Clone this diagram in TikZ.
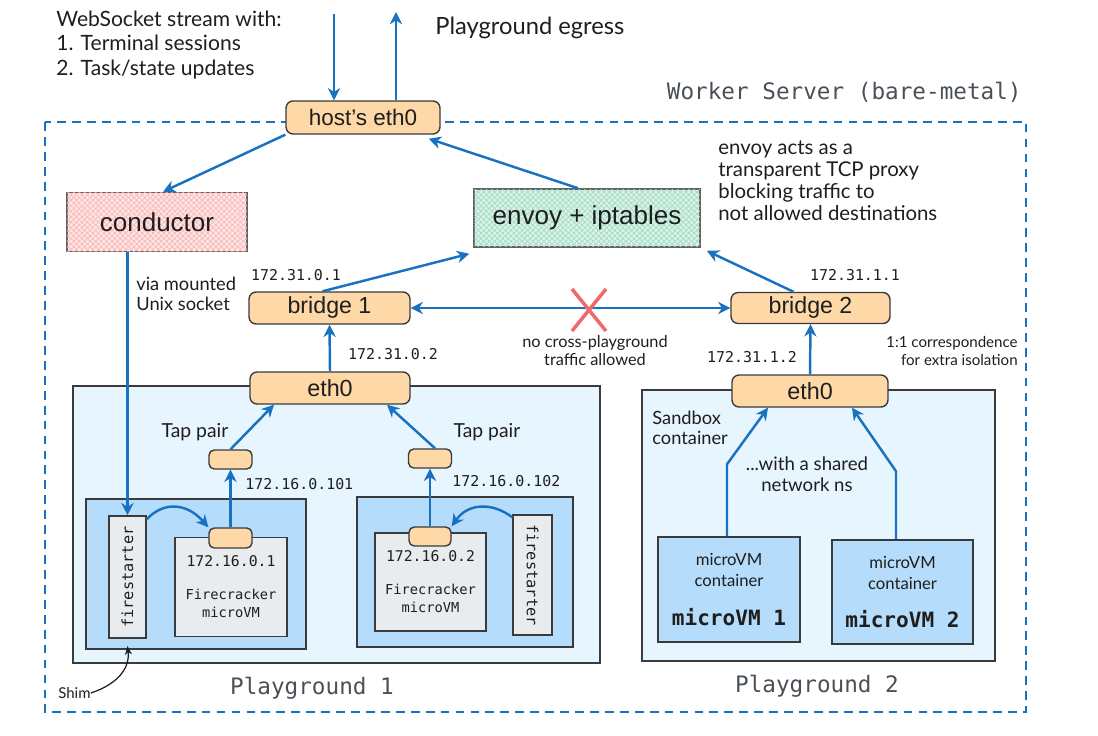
\documentclass[tikz,border=0pt]{standalone}
\usepackage{fontspec}
\setmainfont{Liberation Sans}
\setmonofont{DejaVu Sans Mono}
\newfontfamily\handfont{Lato}
\usepackage{xcolor}
\usepackage{tikz}
\usetikzlibrary{arrows.meta,positioning,patterns.meta}

\definecolor{flowblue}{HTML}{1971C2}
\definecolor{boxline}{HTML}{3B3B3B}
\definecolor{ifaceorange}{HTML}{FFD8A8}
\definecolor{condred}{HTML}{FFE4E4}
\definecolor{condhatch}{HTML}{F7B0B0}
\definecolor{envoygreen}{HTML}{D8F2E7}
\definecolor{envoyhatch}{HTML}{9AD7BD}
\definecolor{pglight}{HTML}{E7F5FF}
\definecolor{ctblue}{HTML}{B5DDFB}
\definecolor{vmgray}{HTML}{E9ECEF}
\definecolor{inkblack}{HTML}{1E1E1E}
\definecolor{labelgray}{HTML}{495057}
\definecolor{xred}{HTML}{EE6A6A}

\begin{document}
\begin{tikzpicture}[x=0.02cm, y=-0.02cm, >=Stealth,
  flow/.style={draw=flowblue, line width=1.4pt, -{Stealth[length=7pt,width=7pt]}},
  iface/.style={draw=boxline, fill=ifaceorange, rounded corners=4pt, line width=0.8pt, inner sep=0pt, text=inkblack},
  port/.style={iface, rounded corners=3pt},
  plainbox/.style={draw=boxline, line width=0.9pt, inner sep=0pt, text=inkblack},
  hatched/.style={postaction={pattern={Lines[angle=45,distance=2.2pt,line width=0.3pt]}, pattern color=#1},
                  postaction={pattern={Lines[angle=-45,distance=2.2pt,line width=0.3pt]}, pattern color=#1}},
  hand/.style={text=inkblack, align=left, inner sep=0pt},
  ipl/.style={font=\ttfamily\fontsize{8.5}{10}\selectfont, text=inkblack, inner sep=0pt},
  pglabel/.style={font=\ttfamily\fontsize{12.9}{15}\selectfont, text=labelgray, inner sep=0pt}]

\useasboundingbox (0,0) rectangle (1098,736);

% ---------------- 1. WORKER SERVER FRAME ----------------
\draw[flowblue, line width=1.4pt, dash pattern=on 5pt off 3.5pt] (45,122) rectangle (1026,712);
\node[pglabel, anchor=east] (wslabel) at (1022,92) {Worker Server (bare-metal)};

% playground areas and the microVM containers
\draw[boxline, fill=pglight, line width=0.9pt] (73,386) rectangle (600,663);
\draw[boxline, fill=pglight, line width=0.9pt] (642,390) rectangle (995,661);
\draw[boxline, fill=ctblue, line width=0.9pt] (86,499) rectangle (306,649);
\draw[boxline, fill=ctblue, line width=0.9pt] (357,497) rectangle (573,647);

\node[pglabel] (pgAlabel) at (312,688) {Playground 1};
\node[pglabel] (pgBlabel) at (817,686) {Playground 2};

% ---------------- 2. HOST SIDE ----------------
\node[iface, minimum width=3.08cm, minimum height=0.66cm, font=\fontsize{12.8}{15}\selectfont] (heth0) at (363,117.5) {host's eth0};

\node[plainbox, draw=boxline!80, fill=condred, hatched=condhatch, minimum width=3.6cm, minimum height=1.18cm, font=\fontsize{14.8}{17}\selectfont] (conductor) at (157,222) {conductor};
\node[plainbox, draw=boxline!80, fill=envoygreen, hatched=envoyhatch, minimum width=4.52cm, minimum height=1.16cm, font=\fontsize{14.8}{17}\selectfont] (envoy) at (587,218) {envoy + iptables};

\node[hand, font=\handfont\fontsize{12}{13.9}\selectfont, anchor=west] (wsnote) at (56,45) {WebSocket stream with:\\1. Terminal sessions\\2. Task/state updates};
\node[hand, font=\handfont\fontsize{13.5}{16}\selectfont, anchor=west] (egress) at (435,28) {Playground egress};
\node[hand, font=\handfont\fontsize{11.6}{12.5}\selectfont, anchor=west] (envoynote) at (718,181) {envoy acts as a\\transparent TCP proxy\\blocking traffic to\\not allowed destinations};

\coordinate (wsIn) at (334,14);
\coordinate (wsOut) at (396,12);
\draw[flow] (wsIn) -- (wsIn |- heth0.north);
\draw[flow] (wsOut |- heth0.north) -- (wsOut);
\draw[flow] (heth0.south west) -- ([xshift=0.12cm]conductor.north);
\draw[flow] ([xshift=-0.18cm]envoy.north) -- ([xshift=-0.24cm,yshift=-0.08cm]heth0.south east);

% ---------------- 3. BRIDGES ----------------
\node[iface, minimum width=3.22cm, minimum height=0.64cm, font=\fontsize{13.2}{15}\selectfont] (bridge1) at (329.5,308) {bridge 1};
\node[iface, minimum width=3.18cm, minimum height=0.62cm, font=\fontsize{13.2}{15}\selectfont] (bridge2) at (810.5,308) {bridge 2};
\node[ipl] (ipbr1) at (296,275) {172.31.0.1};
\node[ipl] (ipbr2) at (855,275) {172.31.1.1};

\draw[flow] ([xshift=-0.14cm]bridge1.north) -- ([xshift=-0.08cm,yshift=-0.12cm]envoy.south west);
\draw[flow] ([xshift=-0.34cm]bridge2.north) -- ([xshift=0.12cm,yshift=-0.06cm]envoy.south east);
\draw[flow, {Stealth[length=7pt,width=7pt]}-{Stealth[length=7pt,width=7pt]}] (bridge1.east) -- (bridge2.west);

% blocked cross traffic
\coordinate (xmark) at (589,310);
\draw[xred, line width=2pt] (xmark) ++(-17,-21) -- ++(34,42);
\draw[xred, line width=2pt] (xmark) ++(17,-21) -- ++(-34,42);
\node[hand, align=center, font=\handfont\fontsize{9.3}{10.2}\selectfont] (xnote) at (595,351) {no cross-playground\\traffic allowed};
\node[hand, align=right, font=\handfont\fontsize{8.6}{10.2}\selectfont, anchor=east] (isonote) at (1018,351) {1:1 correspondence\\for extra isolation};

% ---------------- 4. PLAYGROUND 1 ----------------
\node[iface, minimum width=3.2cm, minimum height=0.64cm, font=\fontsize{13.3}{15}\selectfont] (ethA) at (330,388) {eth0};
\node[ipl] (ipethA) at (393,354) {172.31.0.2};
\draw[flow] (ethA.north) -- (bridge1.south);

\node[port, minimum width=0.86cm, minimum height=0.38cm] (tapA) at (230.5,459.5) {};
\node[port, minimum width=0.86cm, minimum height=0.38cm] (tapB) at (430,458.5) {};
\node[hand, font=\handfont\fontsize{11}{13}\selectfont] (tapAlabel) at (195,432) {Tap pair};
\node[hand, font=\handfont\fontsize{11}{13}\selectfont] (tapBlabel) at (487,432) {Tap pair};
\node[ipl, anchor=west] (iptapA) at (245,484) {172.16.0.101};
\node[ipl, anchor=west] (iptapB) at (452,481) {172.16.0.102};

\draw[flow] (tapA.north) -- ([xshift=-1.12cm]ethA.south);
\draw[flow] ([xshift=0.1cm]tapB.north) -- ([xshift=1.14cm]ethA.south);

% left microVM
\node[plainbox, fill=vmgray, rotate=90, minimum width=2.44cm, minimum height=0.74cm, font=\ttfamily\fontsize{8.7}{10}\selectfont] (fsA) at (127.5,577) {firestarter};
\node[plainbox, fill=vmgray, minimum width=2.24cm, minimum height=1.98cm, align=center, font=\ttfamily\fontsize{7.8}{10.2}\selectfont] (vmA) at (231,587) {{\fontsize{8.4}{10}\selectfont 172.16.0.1}\\[8.5pt]Firecracker\\microVM};
\node[port, minimum width=0.86cm, minimum height=0.4cm] (portA) at (230.5,538) {};
\draw[flow] (portA.north) -- (tapA.south);
\draw[flow] ([yshift=-0.08cm]fsA.south east) .. controls (165,500) and (188,504) .. (portA.north west);
\draw[flow] (fsA.east |- conductor.south) -- (fsA.east);

% right microVM
\node[plainbox, fill=vmgray, rotate=-90, minimum width=2.4cm, minimum height=0.78cm, font=\ttfamily\fontsize{8.7}{10}\selectfont] (fsB) at (532.5,575) {firestarter};
\node[plainbox, fill=vmgray, minimum width=2.22cm, minimum height=1.96cm, align=center, font=\ttfamily\fontsize{7.8}{10.2}\selectfont] (vmB) at (430.5,582) {{\fontsize{8.4}{10}\selectfont 172.16.0.2}\\[8.5pt]Firecracker\\microVM};
\node[port, minimum width=0.84cm, minimum height=0.38cm] (portB) at (430,536.5) {};
\draw[flow] (portB.north) -- (tapB.south);
\draw[flow] ([yshift=-0.06cm]fsB.south west) .. controls (492,502) and (468,503) .. (portB.north east);

% shim pointer
\node[hand, font=\handfont\fontsize{8.5}{10}\selectfont, anchor=west] (shim) at (58,693) {Shim};
\draw[inkblack, line width=0.7pt, -{Stealth[length=5pt,width=4pt]}] (shim.east) .. controls (118,684) and (130,668) .. (fsA.west |- 0,646);

\node[hand, font=\handfont\fontsize{10.4}{11.3}\selectfont, anchor=west] (socknote) at (136,294) {via mounted\\Unix socket};

% ---------------- 5. PLAYGROUND 2 ----------------
\node[iface, minimum width=3.12cm, minimum height=0.64cm, font=\fontsize{13.3}{15}\selectfont] (ethB) at (810,391) {eth0};
\node[ipl] (ipethB) at (752,357) {172.31.1.2};
\draw[flow] (ethB.north) -- (bridge2.south);

\node[hand, font=\handfont\fontsize{10.4}{11.5}\selectfont, anchor=west] (sbnote) at (652,428) {Sandbox\\container};
\node[hand, align=center, font=\handfont\fontsize{10.6}{12}\selectfont] (nsnote) at (807,474) {...with a shared\\network ns};

\node[plainbox, fill=ctblue, minimum width=2.84cm, minimum height=2.1cm, align=center, font=\handfont\fontsize{9.5}{11.9}\selectfont] (mvm1) at (729,589.5) {microVM\\container\\[10pt]{\ttfamily\bfseries\fontsize{12}{14}\selectfont microVM 1}};
\node[plainbox, fill=ctblue, minimum width=2.82cm, minimum height=2.08cm, align=center, font=\handfont\fontsize{9.5}{11.9}\selectfont] (mvm2) at (902.5,592) {microVM\\container\\[10pt]{\ttfamily\bfseries\fontsize{12}{14}\selectfont microVM 2}};

\draw[flow] ([xshift=-0.04cm]mvm1.north) -- ++(0,-72) -- ([xshift=-0.84cm]ethB.south);
\draw[flow] ([xshift=-0.13cm]mvm2.north) -- ++(0,-68) -- ([xshift=0.84cm]ethB.south);

\end{tikzpicture}
\end{document}
